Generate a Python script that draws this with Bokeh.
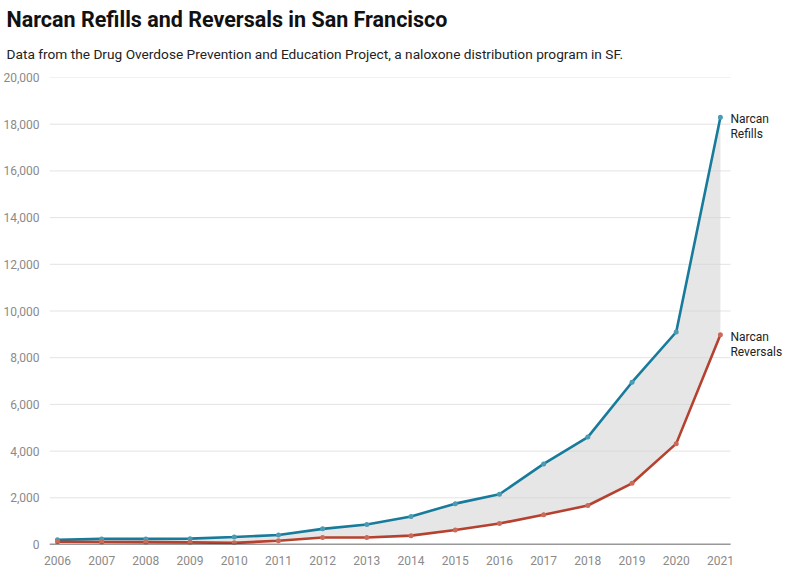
from bokeh.plotting import figure
from bokeh.models import Range1d, Title, FixedTicker, ColumnDataSource, NumeralTickFormatter
from bokeh.core.properties import value
from bokeh.embed import file_html
from bokeh.resources import INLINE

years = list(range(2006, 2022))
refills = [200, 240, 240, 250, 320, 410, 670, 860, 1200, 1750, 2150, 3450, 4600, 6950, 9100, 18300]
reversals = [120, 110, 100, 90, 70, 160, 300, 300, 380, 620, 900, 1270, 1670, 2620, 4320, 8980]
y_ticks = [0, 2000, 4000, 6000, 8000, 10000, 12000, 14000, 16000, 18000, 20000]
title_text = "Narcan Refills and Reversals in San Francisco"
subtitle_text = "Data from the Drug Overdose Prevention and Education Project, a naloxone distribution program in SF."
series_labels = [["Narcan", "Refills"], ["Narcan", "Reversals"]]

BLUE = "#177b9b"
RED = "#b5412e"
FONT = "Roboto"

X0 = years[0] - 0.18
X_GRID_END = years[-1] + 0.23

p = figure(width=784, height=571, output_backend="svg", toolbar_location=None,
           x_range=Range1d(X0, years[-1] + 1.45), y_range=Range1d(0, y_ticks[-1]),
           min_border_left=41, min_border_right=0, min_border_bottom=27, min_border_top=10)
p.title = None
p.outline_line_color = None
p.background_fill_color = "white"

sub = Title(text=subtitle_text, text_font=FONT, text_font_size="13.7px",
            text_font_style="normal", text_color="#222222", offset=-43, standoff=32)
main = Title(text=title_text, text_font=FONT, text_font_size="21.5px",
             text_font_style="bold", text_color="#111111", offset=-43, standoff=-8)
spacer = Title(text=" ", text_font_size="1px", standoff=5)
p.add_layout(sub, "above")
p.add_layout(main, "above")
p.add_layout(spacer, "above")

# horizontal grid lines at the y ticks, ending where the x axis ends
grid_y = y_ticks[1:]
p.segment(x0=[X0] * len(grid_y), y0=grid_y, x1=[X_GRID_END] * len(grid_y), y1=grid_y,
          line_color="#e3e3e3", line_width=1)

p.varea(x=years, y1=reversals, y2=refills, fill_color="#d2d2d2", fill_alpha=0.55)
p.line(years, refills, line_color=BLUE, line_width=2.6)
p.line(years, reversals, line_color=RED, line_width=2.6)
p.scatter(years, refills, size=5, fill_color="#4a9bb5", line_color=None)
p.scatter(years, reversals, size=5, fill_color="#cc6a5a", line_color=None)

# x axis baseline
p.segment(x0=[X0], y0=[0], x1=[X_GRID_END], y1=[0], line_color="#333333", line_width=1.4)

lx, ly, lt, lo = [], [], [], []
for yv, lines in zip([refills[-1], reversals[-1]], series_labels):
    for i, txt in enumerate(lines):
        lx.append(years[-1]); ly.append(yv); lt.append(txt); lo.append(2 + 15 * i)
src = ColumnDataSource(dict(x=lx, y=ly, t=lt, o=lo))
p.text(x="x", y="y", text="t", y_offset="o", x_offset=10, source=src,
       text_font=value(FONT), text_font_size="12px", text_color="#222222",
       text_baseline="middle", text_align="left")

p.xaxis.ticker = FixedTicker(ticks=years)
p.yaxis.ticker = FixedTicker(ticks=y_ticks)
p.yaxis.formatter = NumeralTickFormatter(format="0,0")
for ax in (p.xaxis, p.yaxis):
    ax.major_tick_line_color = None
    ax.minor_tick_line_color = None
    ax.axis_line_color = None
    ax.major_label_text_font = FONT
    ax.major_label_text_font_size = "12px"
    ax.major_label_text_color = "#8a8a8a"
p.yaxis.major_label_standoff = 4
p.xaxis.major_label_standoff = 5
p.xgrid.grid_line_color = None
p.ygrid.grid_line_color = None

open("out.html", "w").write(file_html(p, INLINE))
